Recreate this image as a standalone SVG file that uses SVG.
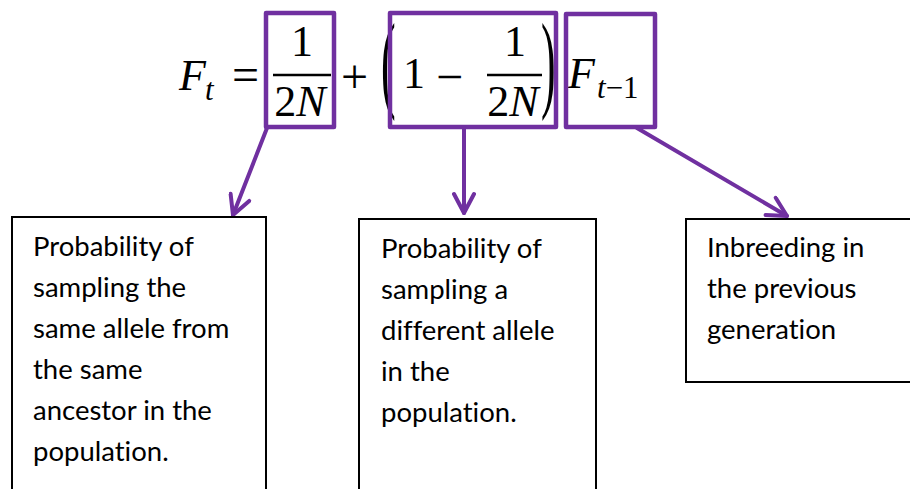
<svg xmlns="http://www.w3.org/2000/svg" width="910" height="489" viewBox="0 0 910 489">
<defs>
<style>
.m{font-family:"Liberation Serif","Times New Roman",serif;fill:#000}
.i{font-style:italic}
.big{font-size:44px}
.op{font-size:48px}
.sub{font-size:31px}
.bar{stroke:#000;stroke-width:2.5}
.hl{fill:none;stroke:#7030A0;stroke-width:4.5;stroke-linejoin:round}
.conn{fill:none;stroke:#7030A0;stroke-width:4;stroke-linecap:round}
.box{fill:#fff;stroke:#000;stroke-width:2}
.t{font-family:Lato,"Open Sans",sans-serif;font-size:27.5px;fill:#000;font-variant-ligatures:none;font-feature-settings:"liga" 0,"clig" 0}
</style>
<marker id="ah" viewBox="-22 -12 26 24" markerWidth="26" markerHeight="24" refX="0" refY="0" orient="auto" markerUnits="userSpaceOnUse">
<polyline points="-19,-10 0,0 -19,10" fill="none" stroke="#7030A0" stroke-width="4" stroke-linecap="round" stroke-linejoin="round"/>
</marker>
</defs>
<rect width="910" height="489" fill="#fff"/>

<g id="equation">
<text class="m i big" x="179" y="90">F</text>
<text class="m i sub" x="205" y="100">t</text>
<text class="m op" x="232" y="91">=</text>
<text class="m big" x="302" y="56" text-anchor="middle">1</text>
<line class="bar" x1="273" y1="75" x2="331" y2="75"/>
<text class="m big" x="300" y="116" text-anchor="middle">2<tspan class="i">N</tspan></text>
<text class="m op" x="341" y="93">+</text>
<text class="m" font-size="44" transform="translate(381,98) scale(1,2.45)">(</text>
<text class="m big" x="403" y="88">1</text>
<text class="m op" x="436" y="93">−</text>
<text class="m big" x="515" y="56" text-anchor="middle">1</text>
<line class="bar" x1="487" y1="75" x2="542" y2="75"/>
<text class="m big" x="513" y="116" text-anchor="middle">2<tspan class="i">N</tspan></text>
<text class="m" font-size="44" transform="translate(541,98) scale(1,2.45)">)</text>
<text class="m i big" x="568" y="88">F</text>
<text class="m sub" x="597" y="98"><tspan class="i">t</tspan>−1</text>
</g>

<g id="highlight1"><rect class="hl" x="266" y="13" width="68" height="114"/></g>
<g id="highlight2"><rect class="hl" x="390" y="13" width="166" height="114"/></g>
<g id="highlight3"><rect class="hl" x="566" y="14" width="89" height="113"/></g>

<g id="connectors">
<line class="conn" x1="267" y1="128" x2="233" y2="215" marker-end="url(#ah)"/>
<line class="conn" x1="464" y1="128" x2="464" y2="213" marker-end="url(#ah)"/>
<line class="conn" x1="637" y1="128" x2="787" y2="216" marker-end="url(#ah)"/>
</g>

<g id="box1">
<rect class="box" x="12" y="217" width="254" height="290"/>
<text class="t" x="33" y="256">Probability of</text>
<text class="t" x="33" y="297">sampling the</text>
<text class="t" x="33" y="338">same allele from</text>
<text class="t" x="33" y="379">the same</text>
<text class="t" x="33" y="420">ancestor in the</text>
<text class="t" x="33" y="461">population.</text>
</g>

<g id="box2">
<rect class="box" x="359" y="219" width="237" height="290"/>
<text class="t" x="381" y="258">Probability of</text>
<text class="t" x="381" y="299">sampling a</text>
<text class="t" x="381" y="340">different allele</text>
<text class="t" x="381" y="381">in the</text>
<text class="t" x="381" y="422">population.</text>
</g>

<g id="box3">
<rect class="box" x="686" y="219" width="240" height="163"/>
<text class="t" x="707" y="257">Inbreeding in</text>
<text class="t" x="707" y="298">the previous</text>
<text class="t" x="707" y="339">generation</text>
</g>
</svg>
